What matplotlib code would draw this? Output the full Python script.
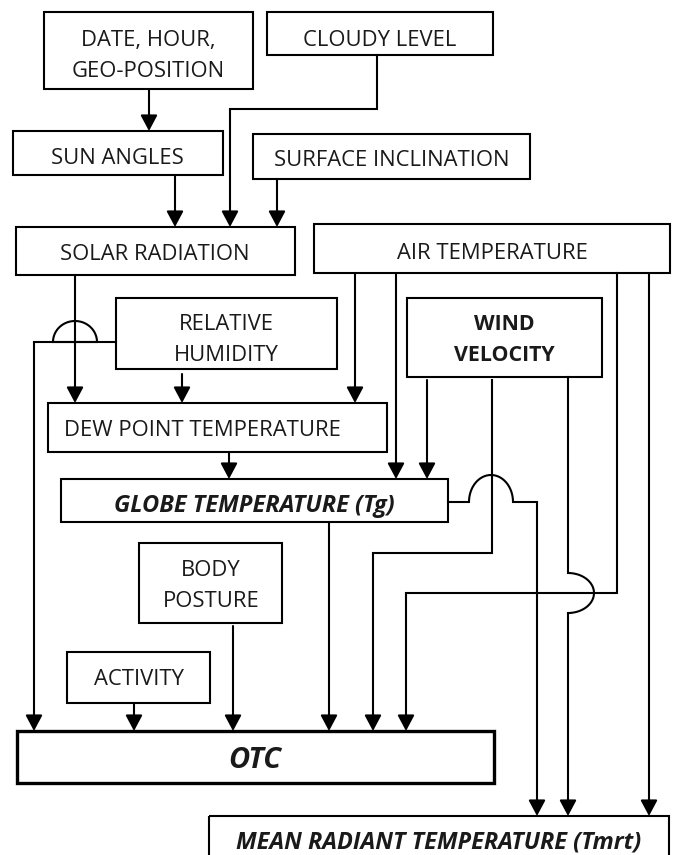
import matplotlib.pyplot as plt
import numpy as np

plt.rcParams['font.family'] = ['Open Sans', 'DejaVu Sans']

# boxes: label, left, top, right, bottom (pixel space, y down)
box_labels = ['DATE, HOUR,\nGEO-POSITION', 'CLOUDY LEVEL', 'SUN ANGLES',
              'SURFACE INCLINATION', 'SOLAR RADIATION', 'AIR TEMPERATURE',
              'RELATIVE\nHUMIDITY', 'WIND\nVELOCITY', 'DEW POINT TEMPERATURE',
              'GLOBE TEMPERATURE (Tg)', 'BODY\nPOSTURE', 'ACTIVITY', 'OTC',
              'MEAN RADIANT TEMPERATURE (Tmrt)']
box_left = [44, 267, 13, 253, 16, 314, 116, 407, 48, 61, 139, 67, 17, 209]
box_top = [12, 12, 131, 134, 227, 224, 298, 298, 403, 479, 543, 652, 731, 816]
box_right = [253, 493, 223, 530, 295, 670, 337, 602, 387, 448, 282, 210, 494, 669]
box_bottom = [89, 55, 175, 179, 275, 273, 369, 377, 452, 522, 623, 703, 783, 870]
text_x = [148, 380, 117, 392, 155, 492, 226, 504, 202, 254, 211, 139, 255, 439]
text_y = [56, 40, 159, 161, 254, 253, 340, 340, 430, 506, 586, 679, 760, 842]
box_weight = ['normal'] * 7 + ['bold', 'normal', 'bold', 'normal', 'normal', 'bold', 'bold']
box_style = ['normal'] * 9 + ['italic', 'normal', 'normal', 'italic', 'italic']
box_size = [15.8] * 7 + [15.4, 15.8, 17, 15.8, 15.8, 21, 16.9]
box_lw = [1.5] * 12 + [2.4, 1.5]

# connectors ending with an arrow head
arrow_paths = [
    [(149, 89), (149, 131)],
    [(377, 55), (377, 109), (230, 109), (230, 227)],
    [(175, 175), (175, 227)],
    [(277, 179), (277, 227)],
    [(75, 275), (75, 403)],
    [(182, 374), (182, 403)],
    [(355, 273), (355, 403)],
    [(396, 273), (396, 479)],
    [(427, 380), (427, 479)],
    [(229, 452), (229, 479)],
    [(329, 522), (329, 731)],
    [(233, 626), (233, 731)],
    [(134, 703), (134, 731)],
    [(492, 380), (492, 553), (373, 553), (373, 731)],
    [(617, 273), (617, 593), (406, 593), (406, 731)],
    [(649, 273), (649, 816)],
]

# connectors with a hop over a crossing line: start, hop (cx, cy, rx, ry, dir), end path
hop_paths = [
    # relative humidity -> OTC, hop over solar radiation line
    ([(116, 342), (97, 342)], (75, 342, 22, 21, 'up'), [(53, 342), (34, 342), (34, 731)]),
    # globe temperature -> MRT, hop over wind velocity line
    ([(448, 502), (469, 502)], (491, 502, 22, 27, 'up'), [(513, 502), (537, 502), (537, 816)]),
    # wind velocity -> MRT, hop over air temperature line
    ([(568, 377), (568, 573)], (568, 593, 26, 20, 'right'), [(568, 613), (568, 816)]),
]

fig = plt.figure(figsize=(6.73, 8.55), dpi=100)
ax = fig.add_axes([0, 0, 1, 1])
ax.set_xlim(0, 673)
ax.set_ylim(855, 0)
ax.axis('off')

for i in range(len(box_labels)):
    l, t, r, b = box_left[i], box_top[i], box_right[i], box_bottom[i]
    ax.add_patch(plt.Rectangle((l, t), r - l, b - t, fill=False, ec='black', lw=box_lw[i]))
    ax.text(text_x[i], text_y[i], box_labels[i], ha='center', va='center',
            fontsize=box_size[i], fontweight=box_weight[i], fontstyle=box_style[i],
            color='#1a1a1a', linespacing=1.65)

arrow_kw = dict(arrowstyle='-|>,head_length=0.6,head_width=0.32', mutation_scale=16,
                color='black', lw=1.5, shrinkA=0, shrinkB=0)


def draw_arrow(pts):
    xs = [p[0] for p in pts]
    ys = [p[1] for p in pts]
    if len(pts) > 2:
        ax.plot(xs[:-1], ys[:-1], color='black', lw=1.5, solid_joinstyle='miter')
    ax.annotate('', xy=pts[-1], xytext=pts[-2], arrowprops=arrow_kw)


for pts in arrow_paths:
    draw_arrow(pts)

for start, hop, end in hop_paths:
    cx, cy, rx, ry, d = hop
    th = np.linspace(0, np.pi, 40)
    if d == 'up':
        hx = cx - rx * np.cos(th)
        hy = cy - ry * np.sin(th)
    else:
        hx = cx + rx * np.sin(th)
        hy = cy - ry * np.cos(th)
    xs = [p[0] for p in start] + list(hx) + [p[0] for p in end[:-1]]
    ys = [p[1] for p in start] + list(hy) + [p[1] for p in end[:-1]]
    ax.plot(xs, ys, color='black', lw=1.5, solid_joinstyle='miter')
    ax.annotate('', xy=end[-1], xytext=end[-2], arrowprops=arrow_kw)

fig.savefig('out.png', dpi=100, facecolor='white')
